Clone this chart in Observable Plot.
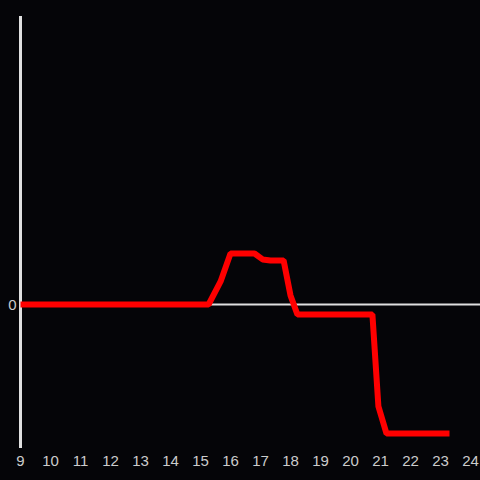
<!DOCTYPE html>
<html><head><meta charset="utf-8">
<script src="https://cdn.jsdelivr.net/npm/d3@7"></script>
<script src="https://cdn.jsdelivr.net/npm/@observablehq/plot@0.6"></script>
<style>
html,body{margin:0;padding:0;background:#050508;}
</style></head>
<body><div id="chart"></div>
<script>
const hours  = [9, 15.27, 15.67, 16.0, 16.8, 17.07, 17.33, 17.77, 18.0, 18.23, 20.73, 20.93, 21.2, 23.3];
const values = [0, 0, 0.16, 0.354, 0.354, 0.313, 0.306, 0.306, 0.063, -0.069, -0.069, -0.708, -0.896, -0.896];
const xTicks = [9,10,11,12,13,14,15,16,17,18,19,20,21,22,23,24];
const yTicks = [0];
const xDomain = [9, 24.333];
const yDomain = [-1, 2];

const data = hours.map((h, i) => ({hour: h, value: values[i]}));

const chart = Plot.plot({
  width: 480, height: 480,
  marginLeft: 20, marginRight: 0, marginTop: 16, marginBottom: 32,
  style: {background: "#050508", color: "#cccccc", fontFamily: "Liberation Sans, Arial, sans-serif"},
  x: {domain: xDomain, label: null},
  y: {domain: yDomain, label: null},
  marks: [
    Plot.axisX({ticks: xTicks, tickSize: 0, tickPadding: 7, fontSize: 15, fill: "#cccccc", label: null, tickFormat: d => String(d)}),
    Plot.axisY({ticks: yTicks, tickSize: 0, tickPadding: 4, fontSize: 15, fill: "#cccccc", label: null, tickFormat: d => String(d), dy: 1}),
    Plot.ruleY(yTicks, {stroke: "#e0e0e0", strokeWidth: 2}),
    Plot.ruleX([xDomain[0]], {stroke: "#e0e0e0", strokeWidth: 3}),
    Plot.line(data, {x: "hour", y: "value", stroke: "#ff0000", strokeWidth: 6, strokeLinejoin: "miter", strokeLinecap: "butt"})
  ]
});
document.getElementById("chart").appendChild(chart);
</script></body></html>
